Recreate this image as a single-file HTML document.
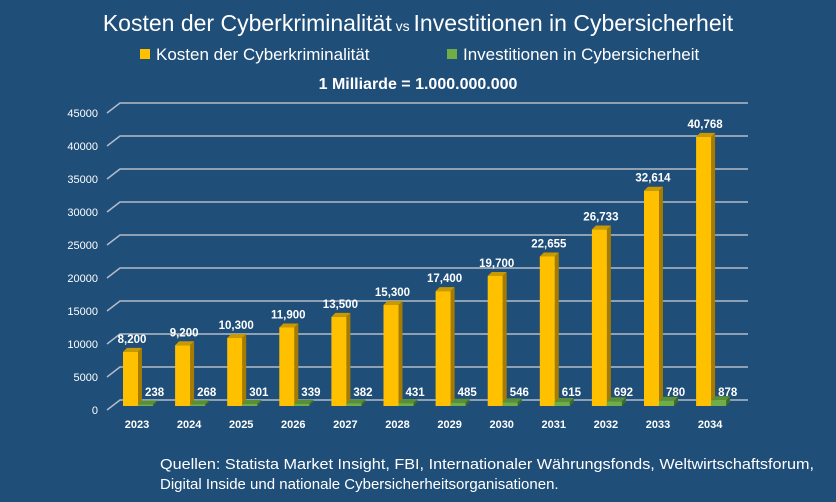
<!DOCTYPE html>
<html><head><meta charset="utf-8"><style>
body{margin:0;background:#1f4e79;}
svg{display:block;font-family:"Liberation Sans",Arial,sans-serif;}
</style></head><body>
<svg width="836" height="502" viewBox="0 0 836 502">
<rect width="836" height="502" fill="#1f4e79"/>
<text x="418" y="31" fill="#fff" font-size="23" text-anchor="middle">Kosten der Cyberkriminalität<tspan font-size="14"> vs </tspan>Investitionen in Cybersicherheit</text>
<rect x="140" y="49" width="10" height="10" fill="#ffc000"/>
<text x="156" y="60" fill="#fff" font-size="17">Kosten der Cyberkriminalität</text>
<rect x="447" y="49" width="10" height="10" fill="#70ad47"/>
<text x="463" y="60" fill="#fff" font-size="17">Investitionen in Cybersicherheit</text>
<text x="418" y="89" fill="#fff" font-size="16" font-weight="bold" text-anchor="middle">1 Milliarde = 1.000.000.000</text>
<g id="grid" stroke="#b4bcc8" stroke-width="1.5" fill="none"></g>
<g id="bars"></g>
<text x="160" y="469" fill="#fff" font-size="15" textLength="654" lengthAdjust="spacingAndGlyphs">Quellen: Statista Market Insight, FBI, Internationaler  Währungsfonds, Weltwirtschaftsforum,</text>
<text x="160" y="489" fill="#fff" font-size="15">Digital Inside und nationale Cybersicherheitsorganisationen.</text>
</svg>
<script>
const ns="http://www.w3.org/2000/svg";
function el(p,t,a,txt){const e=document.createElementNS(ns,t);for(const k in a)e.setAttribute(k,a[k]);if(txt!==undefined)e.textContent=txt;p.appendChild(e);return e;}
const g=document.getElementById('grid'),b=document.getElementById('bars'),svg=document.querySelector('svg');
for(let i=0;i<=9;i++){const y=400-i*33;
 el(g,'polyline',{points:`107,${y+10} 120,${y} 748,${y}`});
 el(svg,'text',{x:98,y:y+14,fill:'#fff','font-size':11,'text-anchor':'end'},String(i*5000));}
const yel=[8200,9200,10300,11900,13500,15300,17400,19700,22655,26733,32614,40768];
const yl=['8,200','9,200','10,300','11,900','13,500','15,300','17,400','19,700','22,655','26,733','32,614','40,768'];
const gr=[238,268,301,339,382,431,485,546,615,692,780,878];
const base=406,s=0.0066,d=4;
for(let i=0;i<12;i++){const x=123+i*52.1;
 const h=yel[i]*s,t=base-h;
 el(b,'polygon',{points:`${x},${t} ${x+d},${t-d} ${x+15+d},${t-d} ${x+15},${t}`,fill:'#c99a00'});
 el(b,'polygon',{points:`${x+15},${t} ${x+15+d},${t-d} ${x+15+d},${base-d} ${x+15},${base}`,fill:'#a67c00'});
 el(b,'rect',{x:x,y:t,width:15,height:h,fill:'#ffc000'});
 const gh=Math.max(gr[i]*s,1.5),gt=base-gh,gx=x+15;
 el(b,'polygon',{points:`${gx},${gt} ${gx+d},${gt-d} ${gx+15+d},${gt-d} ${gx+15},${gt}`,fill:'#5a8f3a'});
 el(b,'polygon',{points:`${gx+15},${gt} ${gx+15+d},${gt-d} ${gx+15+d},${base-d} ${gx+15},${base}`,fill:'#3f6b28'});
 el(b,'rect',{x:gx,y:gt,width:15,height:gh,fill:'#70ad47'});
 el(b,'text',{x:x+9,y:t-9,fill:'#fff','font-size':11.5,'font-weight':'bold','text-anchor':'middle'},yl[i]);
 el(b,'text',{x:gx+7,y:base-10,fill:'#fff','font-size':11.5,'font-weight':'bold'},String(gr[i]));
 el(b,'text',{x:x+14,y:428,fill:'#fff','font-size':11,'font-weight':'bold','text-anchor':'middle'},String(2023+i));
}
</script>
</body></html>
